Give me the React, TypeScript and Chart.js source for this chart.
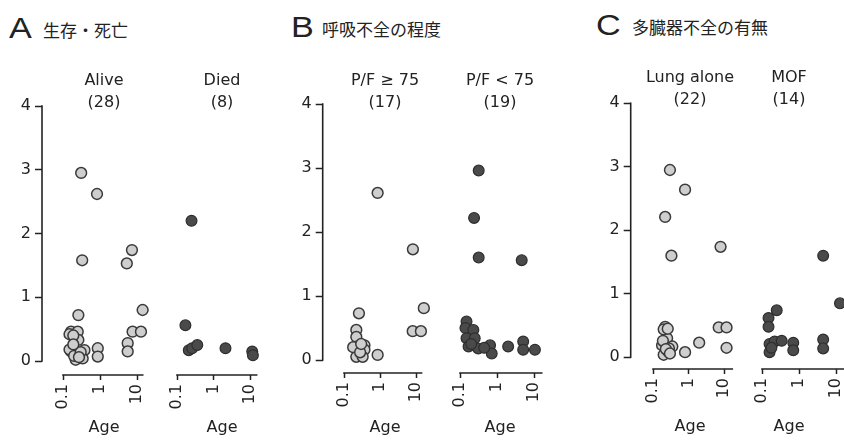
import React, { useEffect, useRef } from 'react';
import { Chart, registerables } from 'chart.js';

Chart.register(...registerables);

// ---------- tick labels ----------
const xTickValues = [0.1, 1, 10];
const yTickValues = [0, 1, 2, 3, 4];

// ---------- A: survival ----------
const aliveAge = [0.31, 0.83, 0.33, 7.3, 5.3, 14.2, 0.26, 0.165, 0.25, 0.26, 0.165, 0.22, 0.38, 0.22, 0.34, 0.87, 0.87, 7.6, 12.8, 5.6, 5.6, 0.15, 0.19, 0.15, 0.2, 0.3, 0.27, 0.19];
const aliveValue = [2.95, 2.62, 1.58, 1.74, 1.53, 0.8, 0.72, 0.46, 0.46, 0.33, 0.15, 0.12, 0.17, 0.02, 0.04, 0.2, 0.07, 0.46, 0.46, 0.28, 0.15, 0.42, 0.4, 0.18, 0.08, 0.14, 0.06, 0.26];
const diedAge = [0.25, 0.17, 0.21, 0.26, 0.36, 2.13, 11.5, 12.0];
const diedValue = [2.2, 0.56, 0.17, 0.2, 0.25, 0.2, 0.15, 0.09];

// ---------- B: respiratory failure ----------
const pfHighAge = [0.86, 8.2, 16.5, 0.26, 8.1, 13.7, 0.22, 0.22, 0.22, 0.37, 0.37, 0.22, 0.33, 0.86, 0.18, 0.28, 0.3];
const pfHighValue = [2.61, 1.73, 0.81, 0.73, 0.45, 0.45, 0.47, 0.36, 0.21, 0.23, 0.16, 0.05, 0.05, 0.08, 0.2, 0.12, 0.25];
const pfLowAge = [0.32, 0.24, 0.32, 4.65, 0.15, 0.14, 0.23, 0.15, 0.25, 0.17, 0.31, 0.65, 0.72, 2.0, 5.1, 5.1, 10.6, 0.2, 0.45];
const pfLowValue = [2.96, 2.22, 1.6, 1.56, 0.6, 0.5, 0.47, 0.34, 0.34, 0.21, 0.18, 0.23, 0.1, 0.21, 0.29, 0.16, 0.16, 0.25, 0.19];

// ---------- C: multiple organ failure ----------
const lungAge = [0.3, 0.8, 0.22, 0.33, 8.0, 0.22, 0.25, 0.18, 0.35, 0.2, 0.27, 0.8, 2.0, 7.1, 11.8, 11.8, 0.2, 0.26, 0.19, 0.28, 0.23, 0.3];
const lungValue = [2.95, 2.64, 2.21, 1.6, 1.74, 0.48, 0.3, 0.19, 0.17, 0.04, 0.09, 0.08, 0.23, 0.47, 0.47, 0.15, 0.44, 0.45, 0.26, 0.14, 0.13, 0.06];
const mofAge = [4.5, 12.8, 0.25, 0.15, 0.15, 0.16, 0.16, 0.22, 0.34, 0.7, 0.7, 4.5, 4.5, 0.18];
const mofValue = [1.6, 0.85, 0.74, 0.62, 0.48, 0.21, 0.08, 0.25, 0.26, 0.23, 0.11, 0.28, 0.14, 0.15];

// ---------- layout / style ----------
const W = 844;
const H = 441;
const CW = 880; // canvas width (wider than the page so edge points are not culled)
const FONT = "'DejaVu Sans', 'Liberation Sans', Arial, sans-serif";
const LETTER_FONT = "'Liberation Sans', Arial, Helvetica, sans-serif";
const CJK = "'Noto Sans CJK JP', 'Noto Sans CJK SC', sans-serif";
const INK = '#222222';
const TITLE_LH = 22;

const frames: Record<string, any> = {
  A: { y4: 106, y0: 361, axisY: 375, titleMid: 81, ageMid: 428 },
  B: { y4: 104, y0: 360, axisY: 373, titleMid: 81, ageMid: 427.5 },
  C: { y4: 103.3, y0: 357.3, axisY: 369, titleMid: 77.5, ageMid: 427 },
};

const LIGHT = { bg: '#cecece', border: '#3a3a3a', width: 1.5 };
const DARK = { bg: '#4a4a4a', border: '#2e2e2e', width: 1.2 };

const subPanels = [
  { frame: 'A', title: ['Alive', '(28)'], ages: aliveAge, values: aliveValue, style: LIGHT, yAxis: true, x01: 63, decade: 37, left: 42, right: 166, axisEnd: 15 },
  { frame: 'A', title: ['Died', '(8)'], ages: diedAge, values: diedValue, style: DARK, yAxis: false, x01: 177, decade: 36.5, left: 168, right: 276, axisEnd: 16 },
  { frame: 'B', title: ['P/F \u2265 75', '(17)'], ages: pfHighAge, values: pfHighValue, style: LIGHT, yAxis: true, x01: 344, decade: 36, left: 322.7, right: 447.3, axisEnd: 15 },
  { frame: 'B', title: ['P/F < 75', '(19)'], ages: pfLowAge, values: pfLowValue, style: DARK, yAxis: false, x01: 460, decade: 37, left: 452, right: 548, axisEnd: 17 },
  { frame: 'C', title: ['Lung alone', '(22)'], ages: lungAge, values: lungValue, style: LIGHT, yAxis: true, x01: 653, decade: 35.5, left: 630.7, right: 749.3, axisEnd: 18 },
  { frame: 'C', title: ['MOF', '(14)'], ages: mofAge, values: mofValue, style: DARK, yAxis: false, x01: 762, decade: 37, left: 724, right: 854, axisEnd: 100 },
];

const headers = [
  { letter: 'A', text: '生存・死亡', letterLeft: 9, letterTop: 13.5, textLeft: 43, textTop: 21 },
  { letter: 'B', text: '呼吸不全の程度', letterLeft: 291, letterTop: 12.5, textLeft: 322, textTop: 20 },
  { letter: 'C', text: '多臓器不全の有無', letterLeft: 596, letterTop: 10.5, textLeft: 632, textTop: 18 },
];

const rangeFramePlugin = {
  id: 'rangeFrame',
  beforeDatasetsDraw(chart: any, _args: any, opts: any) {
    const { ctx, chartArea, scales } = chart;
    const x = scales.x;
    const y = scales.y;
    ctx.save();
    ctx.strokeStyle = INK;
    ctx.lineWidth = 1.6;
    ctx.beginPath();
    ctx.moveTo(x.getPixelForValue(0.1) - 0.8, chartArea.bottom);
    ctx.lineTo(x.getPixelForValue(opts.xEnd), chartArea.bottom);
    ctx.stroke();
    if (opts.yAxis) {
      ctx.beginPath();
      ctx.moveTo(chartArea.left, y.getPixelForValue(0) + 0.8);
      ctx.lineTo(chartArea.left, y.getPixelForValue(4) - 0.8);
      ctx.stroke();
    }
    ctx.restore();
  },
};

function buildConfig(sp: any): any {
  const fr = frames[sp.frame];
  const pxPerUnit = (fr.y0 - fr.y4) / 4;
  const yMin = -(fr.axisY - fr.y0) / pxPerUnit;
  const xMin = 0.1 * Math.pow(10, (sp.left - sp.x01) / sp.decade);
  const xMax = 0.1 * Math.pow(10, (sp.right - sp.x01) / sp.decade);
  const titleTop = fr.titleMid - TITLE_LH / 2;
  const titleBottom = fr.y4 - titleTop - 2 * TITLE_LH;
  const axisH = H - fr.axisY;
  const ageTitleFont = 16;
  const ageBottomPad = H - fr.ageMid - (ageTitleFont * 1.2) / 2;

  return {
    type: 'scatter',
    data: {
      datasets: [
        {
          data: sp.ages.map((a: number, i: number) => ({ x: a, y: sp.values[i] })),
          backgroundColor: sp.style.bg,
          borderColor: sp.style.border,
          borderWidth: sp.style.width,
          pointRadius: 5.4,
          pointHoverRadius: 5.4,
          clip: false,
        },
      ],
    },
    options: {
      responsive: false,
      animation: false,
      events: [],
      devicePixelRatio: 1,
      layout: { padding: { left: sp.yAxis ? 0 : sp.left, right: CW - sp.right, top: 0, bottom: 0 } },
      plugins: {
        legend: { display: false },
        tooltip: { enabled: false },
        title: {
          display: true,
          text: sp.title,
          fullSize: false,
          color: INK,
          font: { family: FONT, size: 16, weight: 'normal', lineHeight: TITLE_LH / 16 },
          padding: { top: titleTop, bottom: titleBottom },
        },
        rangeFrame: { xEnd: sp.axisEnd, yAxis: sp.yAxis },
      },
      scales: {
        x: {
          type: 'logarithmic',
          min: xMin,
          max: xMax,
          bounds: 'data',
          afterBuildTicks: (s: any) => {
            s.ticks = xTickValues.map((v) => ({ value: v }));
          },
          afterFit: (s: any) => {
            s.height = axisH;
            s.paddingLeft = 0;
            s.paddingRight = 0;
          },
          ticks: {
            autoSkip: false,
            minRotation: 90,
            maxRotation: 90,
            padding: 4,
            color: INK,
            font: { family: FONT, size: 16 },
            callback: (v: any) => String(v),
          },
          grid: {
            display: true,
            drawOnChartArea: false,
            drawTicks: true,
            tickLength: 5,
            tickColor: INK,
            tickWidth: 1.5,
          },
          border: { display: false },
          title: {
            display: true,
            text: 'Age',
            color: INK,
            font: { family: FONT, size: ageTitleFont, lineHeight: 1.2 },
            padding: { top: 0, bottom: ageBottomPad },
          },
        },
        y: {
          type: 'linear',
          display: sp.yAxis,
          min: yMin,
          max: 4,
          bounds: 'data',
          afterBuildTicks: (s: any) => {
            s.ticks = yTickValues.map((v) => ({ value: v }));
          },
          afterFit: (s: any) => {
            s.width = sp.yAxis ? sp.left : 0;
            s.paddingTop = 0;
            s.paddingBottom = 0;
          },
          ticks: {
            padding: 4,
            color: INK,
            font: { family: FONT, size: 16 },
            callback: (v: any) => String(v),
          },
          grid: {
            display: true,
            drawOnChartArea: false,
            drawTicks: true,
            tickLength: 7,
            tickColor: INK,
            tickWidth: 1.5,
          },
          border: { display: false },
        },
      },
    },
    plugins: [rangeFramePlugin],
  };
}

export default function App() {
  const refs = useRef<(HTMLCanvasElement | null)[]>([]);

  useEffect(() => {
    const charts: Chart[] = [];
    subPanels.forEach((sp, i) => {
      const canvas = refs.current[i];
      if (!canvas) return;
      charts.push(new Chart(canvas, buildConfig(sp)));
    });
    return () => {
      charts.forEach((c) => c.destroy());
    };
  }, []);

  return (
    <div
      style={{
        position: 'fixed',
        left: 0,
        top: 0,
        width: W,
        height: H,
        background: '#ffffff',
        overflow: 'hidden',
      }}
    >
      {headers.map((h) => (
        <React.Fragment key={h.letter}>
          <div
            style={{
              position: 'absolute',
              left: h.letterLeft,
              top: h.letterTop,
              fontFamily: LETTER_FONT,
              fontSize: 29,
              lineHeight: '29px',
              color: INK,
              transform: 'scaleX(1.18)',
              transformOrigin: 'left top',
              whiteSpace: 'nowrap',
            }}
          >
            {h.letter}
          </div>
          <div
            style={{
              position: 'absolute',
              left: h.textLeft,
              top: h.textTop,
              fontFamily: CJK,
              fontSize: 17,
              lineHeight: '17px',
              color: INK,
              whiteSpace: 'nowrap',
            }}
          >
            {h.text}
          </div>
        </React.Fragment>
      ))}
      {subPanels.map((sp, i) => (
        <canvas
          key={i}
          ref={(el) => {
            refs.current[i] = el;
          }}
          width={CW}
          height={H}
          style={{ position: 'absolute', left: 0, top: 0, width: CW, height: H }}
        />
      ))}
    </div>
  );
}
